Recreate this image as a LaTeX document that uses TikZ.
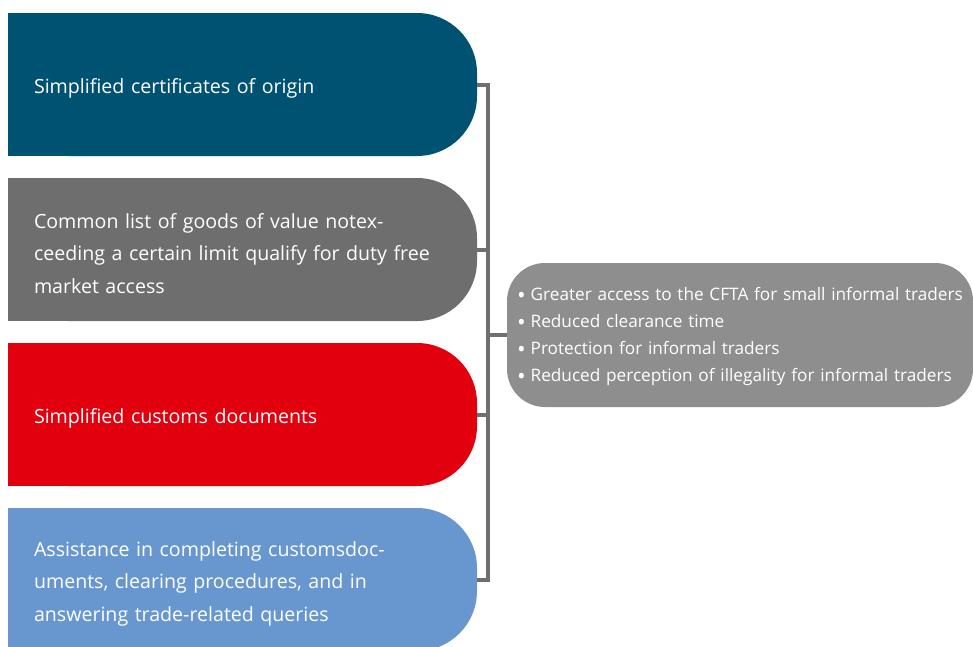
\documentclass[tikz,border=0pt]{standalone}
\usepackage{fontspec}
\setmainfont{Open Sans}
\usetikzlibrary{backgrounds}
\definecolor{boxblue}{HTML}{005273}
\definecolor{boxgray}{HTML}{6E6E6E}
\definecolor{boxred}{HTML}{E2000F}
\definecolor{boxsky}{HTML}{6897D0}
\definecolor{resgray}{HTML}{8E8E8E}
\definecolor{conngray}{HTML}{6F6F6F}
\newcommand{\resitem}{\raisebox{-2.5pt}{\fontsize{23}{23}\selectfont•}\hspace{5pt}}
\tikzset{
    leftbox/.style={minimum width=469pt, minimum height=143pt, text width=417pt, inner xsep=26pt, align=left, text=white, rounded corners=60pt, font=\fontsize{19.6}{32.5}\selectfont, execute at begin node={\rule{0pt}{23pt}}},
    resbox/.style={fill=resgray, minimum width=466pt, minimum height=144pt, text width=446pt, inner xsep=10pt, align=left, text=white, rounded corners=38pt, font=\fontsize{17.2}{27}\selectfont, execute at begin node={\rule{0pt}{17pt}}},
    conn/.style={draw=conngray, line width=4pt}
}
\begin{document}
\begin{tikzpicture}[x=1pt, y=-1pt]
        \useasboundingbox (0,0) rectangle (973,646);
        \node [leftbox, fill=boxblue] (cert) at (242.5, 84.5) {Simplified certificates of origin};
        \node [leftbox, fill=boxgray] (goods) at (242.5, 249.5) {Common list of goods of value notex-\\ceeding a certain limit qualify for duty free\\market access};
        \node [leftbox, fill=boxred] (docs) at (242.5, 414.5) {Simplified customs documents};
        \node [leftbox, fill=boxsky] (assist) at (242.5, 579.5) {Assistance in completing customsdoc-\\uments, clearing procedures, and in\\answering trade-related queries};
        \node [resbox] (res) at (740, 335) {\resitem Greater access to the CFTA for small informal traders\\\resitem Reduced clearance time\\\resitem Protection for informal traders\\\resitem Reduced perception of illegality for informal traders};
        \begin{scope}[on background layer]
            \foreach \b/\c in {cert/boxblue, goods/boxgray, docs/boxred, assist/boxsky}
                \fill [\c] (\b.north west) rectangle (\b.south);
        \end{scope}
        \coordinate (spine) at (488, 0);
        \draw [conn] (cert.east) -- (cert.east -| spine) -- (assist.east -| spine) -- (assist.east);
        \foreach \b in {goods, docs}
            \draw [conn] (\b.east) -- (\b.east -| spine);
        \draw [conn] (res.west) -- (res.west -| spine);
\end{tikzpicture}
\end{document}
